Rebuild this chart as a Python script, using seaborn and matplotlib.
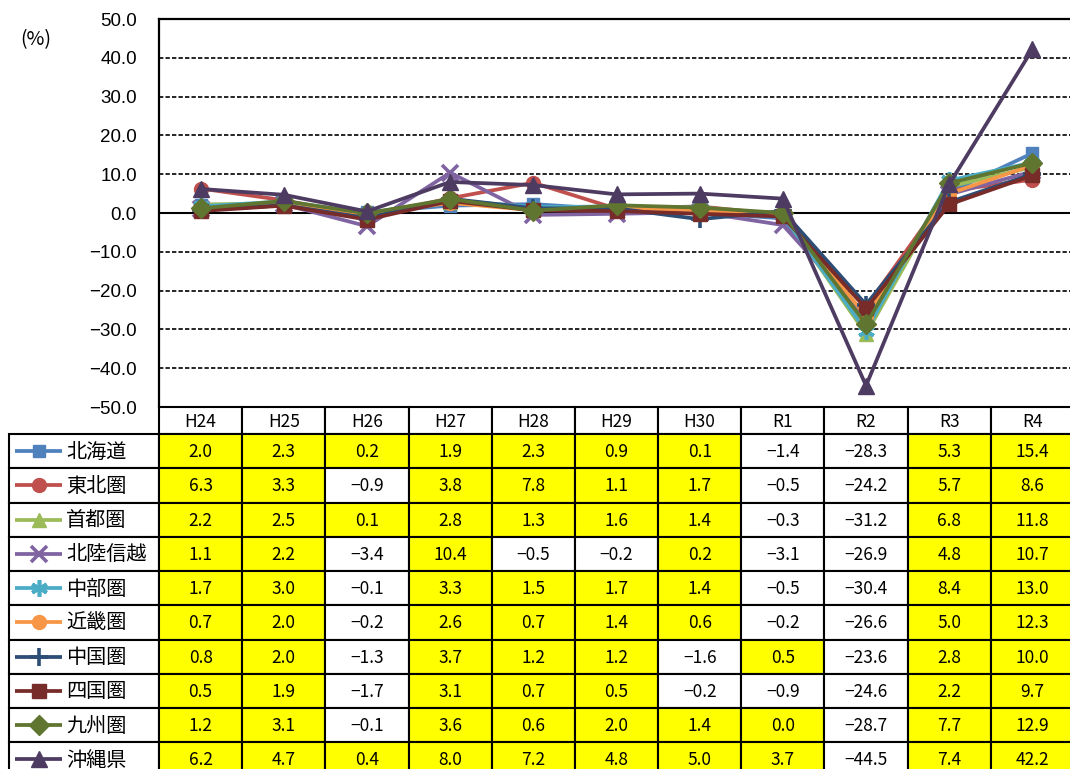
import numpy as np
import pandas as pd
import matplotlib
matplotlib.use("Agg")
import matplotlib.pyplot as plt
from matplotlib.patches import Rectangle
from matplotlib.colors import to_hex
import seaborn as sns

# ---- data -------------------------------------------------------------
years = ["H24", "H25", "H26", "H27", "H28", "H29", "H30", "R1", "R2", "R3", "R4"]
regions = ["北海道", "東北圏", "首都圏", "北陸信越", "中部圏",
           "近畿圏", "中国圏", "四国圏", "九州圏", "沖縄県"]

hokkaido = [2.0, 2.3, 0.2, 1.9, 2.3, 0.9, 0.1, -1.4, -28.3, 5.3, 15.4]
tohoku   = [6.3, 3.3, -0.9, 3.8, 7.8, 1.1, 1.7, -0.5, -24.2, 5.7, 8.6]
shuto    = [2.2, 2.5, 0.1, 2.8, 1.3, 1.6, 1.4, -0.3, -31.2, 6.8, 11.8]
hokuriku = [1.1, 2.2, -3.4, 10.4, -0.5, -0.2, 0.2, -3.1, -26.9, 4.8, 10.7]
chubu    = [1.7, 3.0, -0.1, 3.3, 1.5, 1.7, 1.4, -0.5, -30.4, 8.4, 13.0]
kinki    = [0.7, 2.0, -0.2, 2.6, 0.7, 1.4, 0.6, -0.2, -26.6, 5.0, 12.3]
chugoku  = [0.8, 2.0, -1.3, 3.7, 1.2, 1.2, -1.6, 0.5, -23.6, 2.8, 10.0]
shikoku  = [0.5, 1.9, -1.7, 3.1, 0.7, 0.5, -0.2, -0.9, -24.6, 2.2, 9.7]
kyushu   = [1.2, 3.1, -0.1, 3.6, 0.6, 2.0, 1.4, 0.0, -28.7, 7.7, 12.9]
okinawa  = [6.2, 4.7, 0.4, 8.0, 7.2, 4.8, 5.0, 3.7, -44.5, 7.4, 42.2]

series = [hokkaido, tohoku, shuto, hokuriku, chubu,
          kinki, chugoku, shikoku, kyushu, okinawa]

yticks = list(range(-50, 51, 10))

# ---- styles -------------------------------------------------------------
colors = ["#4F81BD", "#C0504D", "#9BBB59", "#8064A2", "#4BACC6",
          "#F79646", "#2C4D75", "#772C2A", "#5F7530", "#4D3B62"]
markers = ["s", "o", "^", "x", (6, 2, 0), "o", "+", "s", "D", "^"]
marker_sizes = [9, 10, 10, 12, 12, 10, 13, 10, 10, 11]

sns.set_theme(style="white")
plt.rcParams["font.family"] = ["Noto Sans CJK JP", "DejaVu Sans"]
plt.rcParams["axes.unicode_minus"] = True

W, H = 1070, 769
fig = plt.figure(figsize=(W / 100, H / 100), dpi=100)
fig.patch.set_facecolor("white")


def fx(px):
    return px / W


def fy(py):
    return 1 - py / H


def is_line_marker(m):
    return m in ("x", "+") or isinstance(m, tuple)


# ---- line chart ---------------------------------------------------------
plot_left, plot_right, plot_top, plot_bottom = 159, 1074, 19, 407
ax = fig.add_axes([fx(plot_left), fy(plot_bottom),
                   (plot_right - plot_left) / W, (plot_bottom - plot_top) / H])

df = pd.DataFrame({
    "年度": np.tile(years, len(regions)),
    "地域": np.repeat(regions, len(years)),
    "値": np.concatenate(series),
})

sns.lineplot(data=df, x="年度", y="値", hue="地域", hue_order=regions,
             palette=colors, sort=False, linewidth=2.7, legend=False,
             ax=ax, zorder=3)

style_by_color = {to_hex(c): (m, s) for c, m, s in zip(colors, markers, marker_sizes)}
for line in ax.lines:
    c = to_hex(line.get_color())
    if c in style_by_color:
        m, s = style_by_color[c]
        line.set_marker(m)
        line.set_markersize(s)
        line.set_markerfacecolor(c)
        line.set_markeredgecolor(c)
        line.set_markeredgewidth(2.6 if is_line_marker(m) else 1.0)

ax.set_xlim(-0.5, len(years) - 0.5)
ax.set_ylim(-50, 50)
ax.set_yticks(yticks)
ax.set_yticklabels([f"{v:.1f}".replace("-", "\u2212") for v in yticks],
                   fontsize=13.5, family=["Liberation Sans", "DejaVu Sans"])
ax.tick_params(axis="y", length=0, pad=16, colors="black")
ax.set_xticks([])
ax.set_xlabel("")
ax.set_ylabel("")
for v in yticks[1:-1]:
    if v == 0:
        ax.axhline(v, color="black", lw=1.5, zorder=2)
    else:
        ax.axhline(v, color="black", lw=1.2, ls=(0, (2.6, 1.3)), zorder=1)
for side in ("top", "left"):
    ax.spines[side].set_color("black")
    ax.spines[side].set_linewidth(1.6)
ax.spines["right"].set_visible(False)
ax.spines["bottom"].set_visible(False)

fig.text(fx(36), fy(40), "(%)", ha="center", va="center", fontsize=14, color="black")

# ---- data table with legend keys ------------------------------------------
tab_left, tab_bottom = 9, 777
col_w = (plot_right - plot_left) / len(years)
x_left = -0.5 - (plot_left - tab_left) / col_w
head_h, row_h = 27, 34.25

axt = fig.add_axes([fx(tab_left), fy(tab_bottom),
                    (plot_right - tab_left) / W, (tab_bottom - plot_bottom) / H])
axt.set_xlim(x_left, len(years) - 0.5)
axt.set_ylim(tab_bottom - plot_bottom, 0)
axt.axis("off")

cell_font = 12.5
for j, yr in enumerate(years):
    axt.add_patch(Rectangle((j - 0.5, 0), 1, head_h, fc="white", ec="black",
                            lw=1.5, clip_on=False))
    axt.text(j, head_h / 2 + 1, yr, ha="center", va="center",
             fontsize=cell_font, color="black")

for i, (name, vals) in enumerate(zip(regions, series)):
    top = head_h + i * row_h
    axt.add_patch(Rectangle((x_left, top), -0.5 - x_left, row_h, fc="white",
                            ec="black", lw=1.5, clip_on=False))
    # legend key: short line with the series marker
    x0 = x_left + (15 - tab_left) / col_w
    x1 = x_left + (62 - tab_left) / col_w
    m = markers[i]
    axt.plot([x0, x1], [top + row_h / 2] * 2, color=colors[i], lw=2.7,
             solid_capstyle="butt", clip_on=False)
    axt.plot([(x0 + x1) / 2], [top + row_h / 2], marker=m, ms=marker_sizes[i],
             color=colors[i], mec=colors[i],
             mew=2.6 if is_line_marker(m) else 1.0, clip_on=False)
    axt.text(x_left + (66 - tab_left) / col_w, top + row_h / 2 + 1, name,
             ha="left", va="center", fontsize=14.5, color="black")
    for j, v in enumerate(vals):
        fc = "#FFFF00" if v >= 0 else "white"
        axt.add_patch(Rectangle((j - 0.5, top), 1, row_h, fc=fc, ec="black",
                                lw=1.5, clip_on=False))
        axt.text(j, top + row_h / 2 + 1, f"{v:.1f}".replace("-", "\u2212"),
                 ha="center", va="center", fontsize=cell_font, color="black")

fig.savefig("out.png", dpi=100, facecolor="white")
